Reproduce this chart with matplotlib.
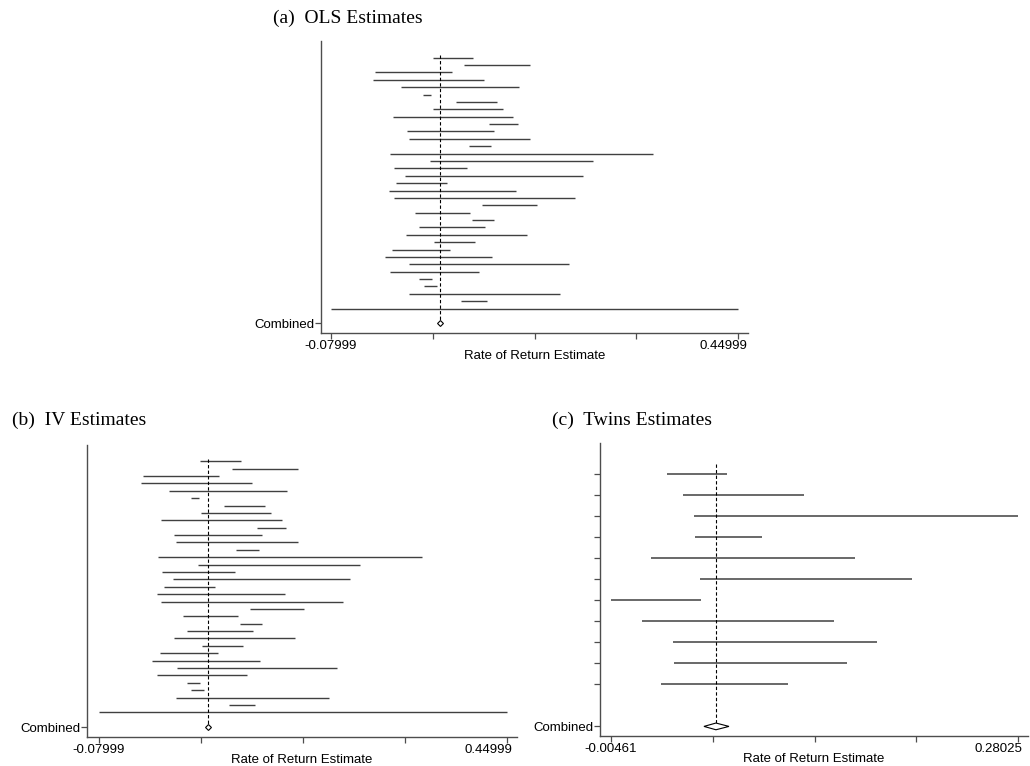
import numpy as np
from matplotlib import pyplot as plt
from matplotlib.transforms import ScaledTranslation

# study intervals (lower, upper), top row first
ols_lo = [0.0524, 0.0936, -0.0227, -0.0253, 0.0112, 0.0402, 0.0832, 0.0533, 0.0012, 0.1258,
          0.0185, 0.0216, 0.0993, -0.0032, 0.0489, 0.0021, 0.0164, 0.0051, -0.0040, 0.0016,
          0.1166, 0.0298, 0.1036, 0.0346, 0.0177, 0.0546, -0.0001, -0.0092, 0.0220, -0.0032,
          0.0350, 0.0411, 0.0211, 0.0897, -0.0800]
ols_hi = [0.1045, 0.1792, 0.0771, 0.1188, 0.1648, 0.0502, 0.1357, 0.1436, 0.1574, 0.1640,
          0.1318, 0.1792, 0.1279, 0.3398, 0.2608, 0.0967, 0.2477, 0.0706, 0.1609, 0.2378,
          0.1878, 0.1015, 0.1318, 0.1206, 0.1757, 0.1071, 0.0754, 0.1292, 0.2299, 0.1123,
          0.0515, 0.0576, 0.2182, 0.1227, 0.4496]
ols_combined = 0.0620

iv_lo = [0.0521, 0.0936, -0.0228, -0.0254, 0.0114, 0.0400, 0.0833, 0.0529, 0.0010, 0.1257,
         0.0183, 0.0209, 0.0988, -0.0034, 0.0486, 0.0018, 0.0161, 0.0049, -0.0042, 0.0010,
         0.1166, 0.0296, 0.1036, 0.0348, 0.0174, 0.0542, -0.0003, -0.0103, 0.0213, -0.0042,
         0.0348, 0.0400, 0.0200, 0.0889, -0.0800]
iv_hi = [0.1045, 0.1785, 0.0763, 0.1192, 0.1647, 0.0503, 0.1361, 0.1439, 0.1577, 0.1634,
         0.1322, 0.1785, 0.1283, 0.3400, 0.2599, 0.0971, 0.2465, 0.0707, 0.1616, 0.2378,
         0.1872, 0.1014, 0.1322, 0.1205, 0.1755, 0.1071, 0.0750, 0.1296, 0.2296, 0.1123,
         0.0516, 0.0568, 0.2188, 0.1231, 0.4500]
iv_combined = 0.0616

twin_lo = [0.0343, 0.0460, 0.0532, 0.0539, 0.0236, 0.0579, -0.0046, 0.0168, 0.0385, 0.0392, 0.0301]
twin_hi = [0.0763, 0.1304, 0.2798, 0.1008, 0.1658, 0.2057, 0.0583, 0.1513, 0.1812, 0.1607, 0.1194]
twin_combined = 0.0688
twin_comb_lo = 0.0604
twin_comb_hi = 0.0779

ab_ticks = [-0.07999, 0.44999]
c_ticks = [-0.00461, 0.28025]

plt.rcParams['font.family'] = ['Liberation Sans', 'DejaVu Sans']

fig = plt.figure(figsize=(10.3, 7.66), dpi=100)


def forest(rect, lo, hi, comb, ticks, xlim, ylim, row_ticks, top_gap, lw, last_shift, diamond=None):
    ax = fig.add_axes(rect)
    n = len(lo)
    rows = np.arange(n)
    comb_row = n + 1
    ax.hlines(rows, lo, hi, color='0.25', lw=lw)
    ax.plot([comb, comb], [-top_gap, comb_row], color='k', lw=0.8, ls=(0, (3, 2)))
    if diamond is None:
        ax.plot([comb], [comb_row], marker='D', ms=3, mfc='white', mec='k', mew=0.8)
    else:
        d_lo, d_hi = diamond
        h = 0.16
        ax.fill([d_lo, comb, d_hi, comb, d_lo], [comb_row, comb_row - h, comb_row, comb_row + h, comb_row],
                facecolor='white', edgecolor='k', lw=0.8, zorder=3)
    ax.set_xlim(*xlim)
    ax.set_ylim(*ylim)
    ax.set_xticks(np.linspace(ticks[0], ticks[1], 5))
    ax.set_xticklabels([f'{ticks[0]:.5f}', '', '', '', f'{ticks[1]:.5f}'])
    if row_ticks:
        ax.set_yticks(list(rows) + [comb_row])
        ax.set_yticklabels([''] * n + ['Combined'])
    else:
        ax.set_yticks([comb_row])
        ax.set_yticklabels(['Combined'])
    ax.tick_params(axis='both', direction='out', length=4, width=0.9, color='0.3',
                   labelsize=9.5, pad=1)
    last = ax.get_xticklabels()[-1]
    last.set_horizontalalignment('right')
    last.set_transform(last.get_transform() + ScaledTranslation(last_shift / 100, 0, fig.dpi_scale_trans))
    for s in ['top', 'right']:
        ax.spines[s].set_visible(False)
    for s in ['left', 'bottom']:
        ax.spines[s].set_color('0.3')
        ax.spines[s].set_linewidth(1.0)
    ax.set_xlabel('Rate of Return Estimate', fontsize=9.5, labelpad=-1.5)
    return ax


forest([0.3117, 0.5653, 0.4146, 0.3816], ols_lo, ols_hi, ols_combined, ab_ticks,
       (-0.0930, 0.4630), (37.3, -2.3), False, 0.3, 1.0, 9)
forest([0.0848, 0.0383, 0.4169, 0.3808], iv_lo, iv_hi, iv_combined, ab_ticks,
       (-0.0948, 0.4630), (37.3, -2.2), False, 0.3, 1.0, 6)
forest([0.5828, 0.0396, 0.4152, 0.3821], twin_lo, twin_hi, twin_combined, c_ticks,
       (-0.0121, 0.2870), (12.44, -1.47), True, 0.45, 1.1, 4, diamond=(twin_comb_lo, twin_comb_hi))

title_font = dict(family=['Liberation Serif', 'DejaVu Serif'], fontsize=14, va='center')
fig.text(0.265, 0.9765, '(a)  OLS Estimates', **title_font)
fig.text(0.0117, 0.4517, '(b)  IV Estimates', **title_font)
fig.text(0.536, 0.4517, '(c)  Twins Estimates', **title_font)

fig.savefig('out.png', dpi=100)
